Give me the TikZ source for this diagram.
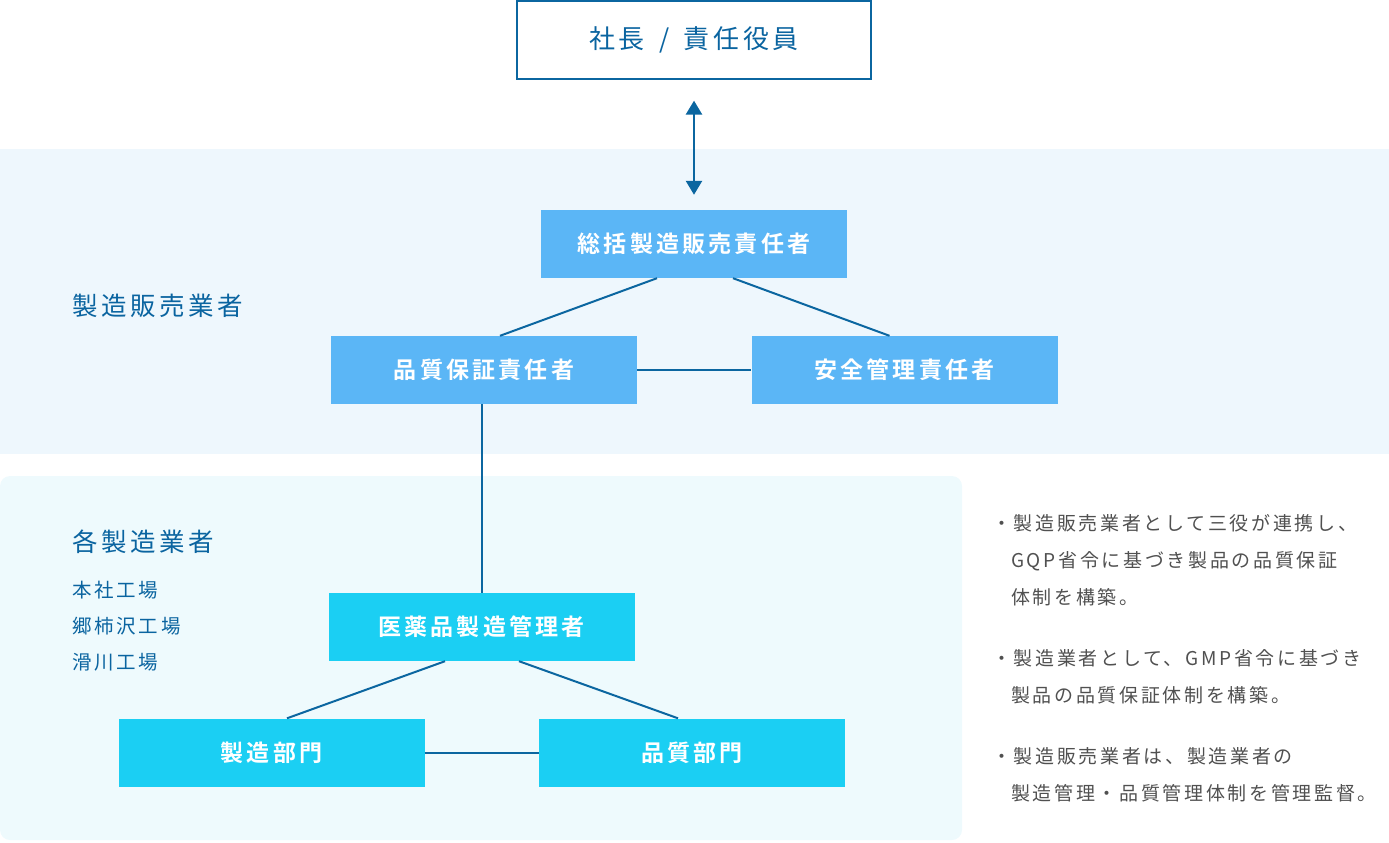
\documentclass[tikz,border=0pt]{standalone}
\usepackage{fontspec}
\setmainfont{Noto Sans CJK JP}[BoldFont={Noto Sans CJK JP Bold},LetterSpace=14]
\usepackage{tikz}
\usetikzlibrary{arrows.meta,positioning,calc}
\usepackage{xcolor}
\definecolor{LineBlue}{HTML}{0B66A0}
\definecolor{LabelBlue}{HTML}{0A64A0}
\definecolor{BandSky}{HTML}{EEF7FD}
\definecolor{BandAqua}{HTML}{EEFAFD}
\definecolor{BoxSky}{HTML}{5BB6F6}
\definecolor{BoxAqua}{HTML}{1BCFF3}
\definecolor{NoteGray}{HTML}{505050}

\begin{document}
\begin{tikzpicture}[x=1pt,y=-1pt,>={Triangle[width=16pt,length=14pt]},
  officer/.style={fill=BoxSky,text=white,font=\fontsize{23}{26}\selectfont\bfseries,
    minimum width=306pt,minimum height=68pt,inner sep=0pt},
  plant/.style={officer,fill=BoxAqua},
  link/.style={LineBlue,line width=2pt},
  grouplabel/.style={anchor=west,text=LabelBlue,font=\fontsize{25.5}{28}\selectfont,inner sep=0pt},
  sitelabel/.style={anchor=west,text=LabelBlue,font=\fontsize{19.5}{22}\selectfont,inner sep=0pt},
  note/.style={anchor=north west,text=NoteGray,align=left,inner sep=0pt,
    font=\fontsize{19}{37}\selectfont}]
  \useasboundingbox (0,0) rectangle (1389,843);

  % Background bands: marketing authorisation holder on top, manufacturers below.
  \fill[BandSky] (0,149) rectangle (1389,454);
  \fill[BandAqua,rounded corners=10pt] (0,476) rectangle (962,840);

  % Top management
  \node[draw=LineBlue,line width=1.3pt,fill=white,minimum width=354pt,minimum height=78pt,
    text=LabelBlue,font=\fontsize{26}{29}\selectfont] (boss) at (694,40) {社長\hspace{0.55em}/\hspace{0.55em}責任役員};

  % The three officers of the marketing side
  \node[officer] (soukatsu) at (694,244) {総括製造販売責任者};
  \node[officer] (hinsho) at (484,370) {品質保証責任者};
  \node[officer] (anzen) at (904.5,370) {安全管理責任者};
  \node[grouplabel] (mah) at (72,306) {製造販売業者};

  % Manufacturing side
  \node[plant] (seizokanri) at (481.5,627) {医薬品製造管理者};
  \node[plant] (seizobu) at (271.5,752.5) {製造部門};
  \node[plant] (hinshitsubu) at (692,752.5) {品質部門};
  \node[grouplabel] (maker) at (72,542) {各製造業者};
  \node[sitelabel] (site1) at (72,590) {本社工場};
  \node[sitelabel] (site2) at (72,626) {郷柿沢工場};
  \node[sitelabel] (site3) at (72,662) {滑川工場};

  % Connectors
  \draw[<->,LineBlue,line width=2.6pt,shorten <=21pt,shorten >=15pt] (boss.south) -- (soukatsu.north);
  \draw[link] ([xshift=-37pt]soukatsu.south) -- ([xshift=16pt]hinsho.north);
  \draw[link] ([xshift=39pt]soukatsu.south) -- ([xshift=-15pt]anzen.north);
  \draw[link] (hinsho.east) -- (anzen.west);
  \draw[link] ([xshift=-2pt]hinsho.south) -- ([xshift=0.5pt]seizokanri.north);
  \draw[link] ([xshift=-36.5pt]seizokanri.south) -- ([xshift=15.5pt]seizobu.north);
  \draw[link] ([xshift=37.5pt]seizokanri.south) -- ([xshift=-14pt]hinshitsubu.north);
  \draw[link] (seizobu.east) -- (hinshitsubu.west);

  % Notes on the right
  \node[note] (note1) at (992,514) {・製造販売業者として三役が連携し、\\\phantom{・}GQP省令に基づき製品の品質保証\\\phantom{・}体制を構築。};
  \node[note] (note2) at (992,649) {・製造業者として、GMP省令に基づき\\\phantom{・}製品の品質保証体制を構築。};
  \node[note] (note3) at (992,747) {・製造販売業者は、製造業者の\\\phantom{・}製造管理・品質管理体制を管理監督。};
\end{tikzpicture}
\end{document}
